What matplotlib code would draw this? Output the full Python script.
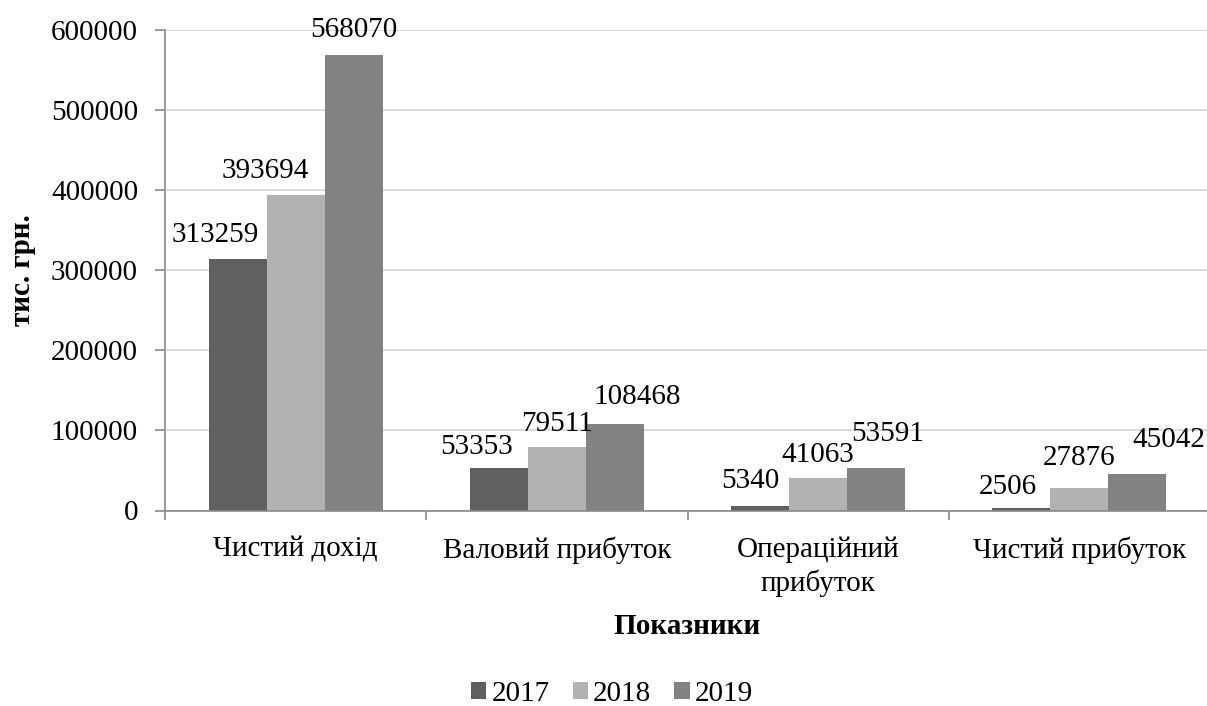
import matplotlib
matplotlib.use("Agg")
import matplotlib.pyplot as plt
import numpy as np

categories = ["Чистий дохід", "Валовий прибуток", "Операційний\nприбуток", "Чистий прибуток"]
years = ["2017", "2018", "2019"]
values_2017 = [313259, 53353, 5340, 2506]
values_2018 = [393694, 79511, 41063, 27876]
values_2019 = [568070, 108468, 53591, 45042]
yticks = [0, 100000, 200000, 300000, 400000, 500000, 600000]

# label offsets (pixels) relative to bar top-center, per series
label_dx = [[-22, -22, -10, -14], [-30, 0, 0, 0], [0, 22, 12, 31]]
label_dy = [[17, 14, 18, 14], [17, 16, 16, 23], [18, 20, 27, 27]]

colors = ["#606060", "#b2b2b2", "#828282"]
FONT = "Liberation Serif"
FS = 21

plt.rcParams['font.family'] = [FONT, 'DejaVu Serif']

W, H, DPI = 1207, 706, 100
fig = plt.figure(figsize=(W / DPI, H / DPI), dpi=DPI)
ax = fig.add_axes([165 / W, 1 - 510.5 / H, (1210 - 165) / W, (510.5 - 29.5) / H])

series = [values_2017, values_2018, values_2019]
x = np.arange(len(categories))
bw = 1 / 4.5
px2pt = 72 / DPI
for i, (vals, c) in enumerate(zip(series, colors)):
    xs = x + (i - 1) * bw
    ax.bar(xs, vals, width=bw, color=c, label=years[i], zorder=3)
    for j, (xx, v) in enumerate(zip(xs, vals)):
        ax.annotate(f"{v}", (xx, v), xytext=(label_dx[i][j] * px2pt, label_dy[i][j] * px2pt),
                    textcoords="offset points", ha="center", va="baseline",
                    fontsize=FS, color="black", zorder=5)

ax.set_xlim(-0.5, len(categories) - 0.5)
ax.set_ylim(0, 600000)
ax.set_yticks(yticks)
ax.set_yticklabels([str(t) for t in yticks], fontsize=FS)
ax.set_xticks(x)
ax.set_xticklabels(categories, fontsize=FS, linespacing=1.3)
ax.set_xticks(np.arange(-0.5, len(categories)), minor=True)
ax.tick_params(axis='x', which='major', length=0, pad=19)
ax.tick_params(axis='x', which='minor', length=9 * px2pt, width=1.2, color="#898989", direction='out')
ax.tick_params(axis='y', length=10 * px2pt, width=1.2, color="#898989", direction='out', pad=17 * px2pt)

ax.grid(axis='y', color="#d9d9d9", linewidth=1.3, zorder=0)
for s in ["top", "right"]:
    ax.spines[s].set_visible(False)
for s in ["left", "bottom"]:
    ax.spines[s].set_color("#898989")
    ax.spines[s].set_linewidth(1.2)
    ax.spines[s].set_zorder(4)

ax.set_xlabel("Показники", fontsize=FS, fontweight="bold", labelpad=11)
fig.text(22 / W, 1 - 270 / H, "тис. грн.", rotation=90, ha="center", va="center",
         fontsize=FS, fontweight="bold")

leg = fig.legend(loc="center", bbox_to_anchor=(612 / W, 1 - 694 / H), ncol=3, frameon=False,
                 fontsize=FS, handlelength=0.52, handleheight=0.52, handletextpad=0.17,
                 columnspacing=0.8, borderaxespad=0, borderpad=0)

fig.savefig("out.png", dpi=DPI)
